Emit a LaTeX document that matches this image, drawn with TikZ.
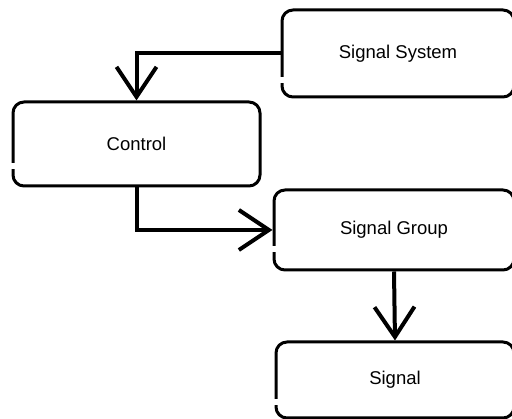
\documentclass[tikz,border=0pt]{standalone}
\usepackage{fontspec}
\setmainfont{Liberation Sans}
\usetikzlibrary{arrows.meta,calc}
\begin{document}
\begin{tikzpicture}[x=1pt,y=1pt,
  box/.style={draw=black, line width=3pt, rounded corners=11pt, fill=white,
    font=\fontsize{18.5}{22}\selectfont, inner sep=0pt},
  link/.style={draw=black, line width=4pt,
    -{Straight Barb[length=30pt,width=40pt,line width=4pt]}},
  gap/.style={draw=white, line width=6pt}]
\useasboundingbox (0,0) rectangle (512,419);
\clip (0,0) rectangle (512,419);

% boxes (y measured upward from the bottom edge)
\node[box, minimum width=232pt, minimum height=87pt] (ss)  at (398,365.5) {Signal System};
\node[box, minimum width=247pt, minimum height=84pt] (ctl) at (136.5,275) {Control};
\node[box, minimum width=240pt, minimum height=80pt] (sg)  at (394,189)   {Signal Group};
\node[box, minimum width=238pt, minimum height=76pt] (sig) at (395,39)    {Signal};

% small breaks in the hand-drawn left edges
\draw[gap] ($(ss.west)+(0,-24)$)  -- ++(0,-6);
\draw[gap] ($(ctl.west)+(0,-19)$) -- ++(0,-6);
\draw[gap] ($(sg.west)+(0,-16)$)  -- ++(0,-6);
\draw[gap] ($(sig.west)+(0,-19)$) -- ++(0,-6);

% connectors
\draw[link] (ss.west) -| (ctl.north);
\draw[link] (ctl.south) |- (sg.west);
\draw[link] (sg.south) -- (sig.north);
\end{tikzpicture}
\end{document}
